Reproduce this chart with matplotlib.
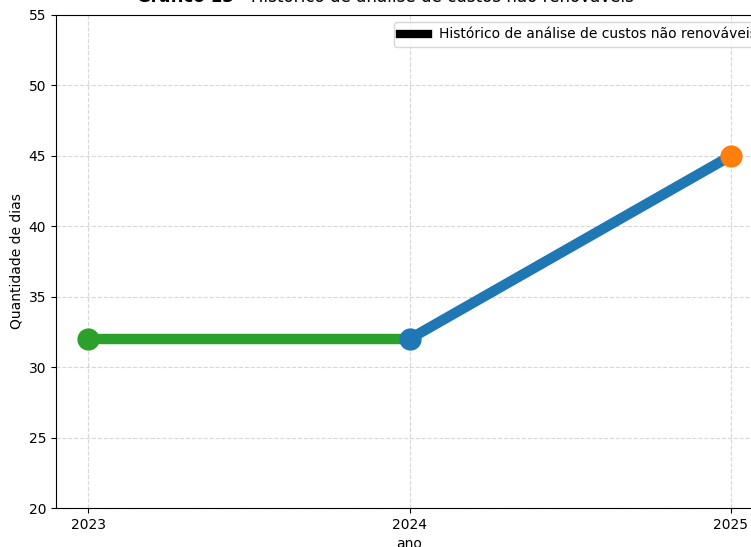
import matplotlib
matplotlib.use("Agg")
import matplotlib.pyplot as plt
from matplotlib.lines import Line2D

anos = [2023, 2024, 2025]
dias = [32, 32, 45]
cores_pontos = ["#2ca02c", "#1f77b4", "#ff7f0e"]
cores_segmentos = ["#2ca02c", "#1f77b4"]
yticks = [20, 25, 30, 35, 40, 45, 50, 55]
legenda = "Histórico de análise de custos não renováveis"
titulo_bold = "Gráfico 13"
titulo_normal = " - Histórico de análise de custos não renováveis"

fig = plt.figure(figsize=(7.51, 5.47), dpi=100)
ax = fig.add_axes([56/751, 39/547, 707/751, 493/547])

for i in range(len(anos) - 1):
    ax.plot(anos[i:i+2], dias[i:i+2], color=cores_segmentos[i], linewidth=7.5,
            solid_capstyle="butt", zorder=2)
for x, y, c in zip(anos, dias, cores_pontos):
    ax.plot([x], [y], "o", color=c, markersize=15, zorder=3)

ax.set_xticks(anos)
ax.set_xticklabels([str(a) for a in anos])
ax.set_yticks(yticks)
ax.set_ylim(20, 55)
ax.set_xlim(2022.9, 2025.1)
ax.grid(True, linestyle="--", alpha=0.5)
ax.set_xlabel("ano")
ax.set_ylabel("Quantidade de dias")

handle = Line2D([0], [0], color="black", linewidth=6)
ax.legend([handle], [legenda], loc="upper right", fontsize=10,
          bbox_to_anchor=(1 + 6/707, 1))

fs = 12.1
ybase = 1 - 2/547
t1 = fig.text(137/751, ybase, titulo_bold, fontsize=fs, fontweight="bold",
              ha="left", va="baseline")
fig.canvas.draw()
r = fig.canvas.get_renderer()
bb = t1.get_window_extent(renderer=r)
fig.text(bb.x1/751, ybase, titulo_normal, fontsize=fs, ha="left", va="baseline")

fig.savefig("out.png", dpi=100)
